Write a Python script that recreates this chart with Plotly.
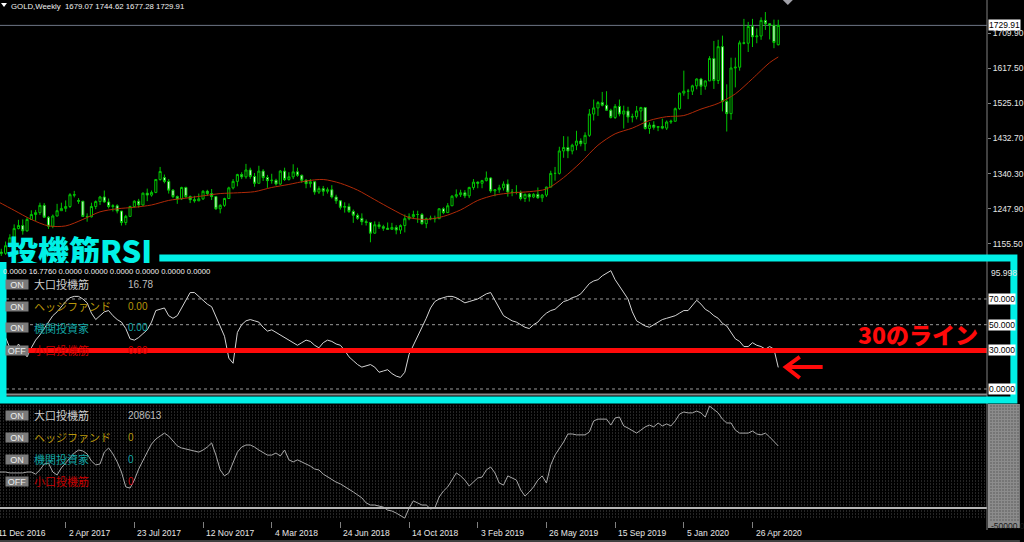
import pandas as pd
import plotly.graph_objects as go

# ---------------- data ----------------
first_week = "2016-12-11"
weeks = pd.date_range(first_week, periods=183, freq="7D")

open_ = [1159,1134,1131,1151,1172,1196,1204,1190,1220,1233,
1238,1257,1226,1202,1229,1243,1249,1254,1285,1270,
1268,1228,1227,1254,1267,1279,1266,1254,1256,1242,
1212,1228,1254,1268,1258,1289,1284,1291,1325,1330,
1320,1297,1280,1274,1304,1280,1272,1269,1274,1294,
1288,1280,1248,1257,1275,1303,1320,1338,1332,1350,
1333,1315,1347,1330,1322,1323,1313,1347,1325,1332,
1345,1336,1323,1314,1319,1292,1301,1294,1298,1279,
1269,1252,1254,1241,1231,1223,1214,1212,1184,1206,
1201,1197,1194,1199,1192,1204,1222,1227,1233,1233,
1209,1222,1223,1222,1248,1238,1256,1281,1285,1290,
1282,1304,1318,1315,1322,1329,1295,1298,1303,1313,
1292,1291,1291,1275,1286,1279,1286,1277,1284,1305,
1341,1341,1400,1409,1400,1415,1426,1419,1441,1497,
1513,1527,1520,1507,1488,1517,1497,1505,1489,1490,
1505,1514,1459,1468,1462,1464,1460,1476,1478,1511,
1552,1557,1557,1571,1589,1570,1584,1643,1585,1674,
1530,1498,1618,1620,1684,1683,1727,1700,1702,1743,
1734,1730,1679.07]

high = [1165,1143,1162,1181,1207,1219,1220,1226,1244,1245,
1264,1263,1229,1233,1261,1264,1270,1289,1295,1276,
1268,1236,1264,1270,1282,1296,1275,1260,1260,1242,
1232,1256,1270,1274,1291,1301,1296,1326,1358,1338,
1326,1300,1283,1306,1306,1283,1282,1288,1297,1298,
1300,1280,1260,1277,1306,1326,1340,1344,1366,1356,
1342,1361,1352,1337,1340,1327,1350,1356,1344,1365,
1356,1338,1326,1326,1321,1307,1308,1304,1310,1285,
1270,1265,1262,1246,1236,1236,1220,1212,1215,1214,
1206,1212,1211,1205,1207,1233,1236,1243,1243,1237,
1225,1230,1230,1250,1252,1263,1284,1299,1298,1297,
1306,1326,1320,1324,1346,1331,1300,1311,1320,1325,
1300,1310,1296,1288,1289,1289,1304,1287,1306,1348,
1358,1411,1439,1438,1419,1453,1433,1449,1510,1535,
1531,1555,1557,1511,1523,1535,1519,1516,1498,1518,
1516,1515,1475,1478,1465,1485,1480,1482,1514,1553,
1611,1563,1574,1591,1592,1585,1649,1689,1692,1703,
1575,1645,1645,1690,1747,1739,1747,1722,1751,1765,
1736,1745,1744.62]

low = [1122,1124,1127,1146,1172,1194,1180,1188,1219,1216,
1232,1224,1195,1197,1228,1243,1240,1250,1278,1261,
1227,1214,1225,1247,1258,1264,1249,1241,1236,1204,
1205,1228,1251,1251,1256,1268,1280,1289,1322,1315,
1288,1276,1261,1271,1276,1263,1264,1268,1271,1282,
1271,1245,1236,1253,1274,1299,1307,1326,1327,1327,
1306,1315,1321,1303,1314,1309,1310,1321,1322,1326,
1332,1316,1302,1304,1285,1287,1282,1288,1275,1261,
1246,1238,1237,1211,1219,1205,1204,1160,1182,1195,
1190,1193,1194,1181,1182,1186,1218,1221,1211,1206,
1197,1218,1212,1222,1234,1238,1255,1276,1279,1276,
1276,1298,1302,1302,1320,1290,1281,1290,1296,1280,
1281,1286,1270,1266,1267,1276,1274,1266,1279,1305,
1322,1338,1382,1381,1391,1402,1412,1400,1437,1480,
1492,1517,1506,1485,1484,1491,1459,1474,1475,1483,
1480,1456,1445,1456,1452,1457,1455,1471,1477,1508,
1545,1536,1547,1562,1547,1561,1584,1563,1576,1504,
1451,1482,1567,1611,1680,1660,1673,1683,1692,1718,
1693,1670,1677.28]

close = [1134,1131,1151,1172,1196,1204,1190,1220,1233,1238,
1257,1226,1202,1229,1243,1249,1254,1285,1284,1268,
1228,1227,1254,1267,1279,1266,1254,1256,1242,1212,
1228,1254,1268,1258,1289,1284,1291,1325,1346,1320,
1297,1280,1274,1304,1280,1272,1269,1274,1294,1288,
1280,1248,1257,1275,1303,1320,1338,1332,1350,1333,
1315,1347,1330,1322,1323,1313,1347,1325,1332,1345,
1336,1323,1314,1319,1292,1301,1294,1298,1279,1269,
1252,1254,1241,1231,1223,1214,1212,1184,1206,1201,
1197,1194,1199,1192,1204,1222,1227,1233,1233,1209,
1222,1223,1222,1248,1238,1256,1281,1285,1290,1282,
1304,1318,1315,1322,1329,1295,1298,1303,1313,1292,
1291,1291,1275,1286,1279,1286,1277,1284,1305,1341,
1341,1400,1409,1400,1415,1426,1419,1441,1497,1513,
1527,1520,1507,1488,1517,1497,1505,1489,1490,1505,
1514,1459,1468,1462,1464,1460,1476,1478,1511,1552,
1557,1557,1571,1589,1570,1584,1643,1585,1674,1530,
1498,1618,1620,1684,1683,1727,1700,1702,1743,1734,
1730,1685,1729.91]

# moving average, read every 4th bar (+ last bar)
ma_bars = list(range(0, 181, 4)) + [182]
ma_values = [1268,1244,1220,1203,1203,1220,1240,1248,1252,1258,1270,1276,1282,1288,1290,
1293,1304,1312,1321,1325,1315,1297,1272,1247,1225,1220,1228,1245,1270,1284,
1290,1293,1300,1330,1370,1415,1445,1460,1480,1490,1493,1510,1525,1550,1590,1632,1647]

rsi_large = [30,35,40,32,28,35,30,25,32,38,
42,47,53,57,60,64,68,71,72,72,
70,67,59,54,57,60,61,57,54,52,
47,39,38,40,43,46,52,61,62,63,
57,55,57,63,70,75,75,72,69,66,
64,56,49,41,24,20,44,50,53,54,
53,52,48,45,46,44,42,40,38,36,
34,36,38,37,34,32,36,38,37,35,
34,30,25,22,19,17,18,19,17,13,
14,15,12,10,9,13,27,34,40,48,
55,63,68,70,71,72,72,71,69,67,
68,69,70,72,74,75,69,62,57,55,
53,52,50,48,47,50,52,56,59,61,
62,65,68,69,71,72,74,78,82,84,
85,88,90,92,85,80,76,70,60,53,
51,49,48,50,52,54,55,56,57,59,
61,61,65,69,66,62,60,57,55,51,
49,44,39,37,33,33,36,34,33,31,
33,31,16.78]

cot_large = [121000,121000,121000,118000,118000,118000,118000,121000,121000,114000,
128000,148000,151000,121000,111000,135000,151000,168000,185000,195000,
192000,182000,158000,145000,148000,188000,202000,182000,155000,121000,
71000,67000,94000,131000,162000,188000,215000,232000,242000,252000,
242000,225000,209000,202000,199000,195000,192000,188000,195000,205000,
219000,178000,128000,108000,118000,151000,188000,205000,212000,212000,
205000,195000,185000,178000,178000,185000,175000,195000,162000,155000,
162000,155000,148000,141000,131000,128000,114000,104000,94000,87000,
81000,71000,61000,54000,44000,34000,17000,10000,10000,7000,
3000,-7000,-10000,-17000,-27000,-34000,0,24000,17000,10000,
10000,-3000,0,37000,57000,71000,94000,118000,108000,94000,
74000,87000,101000,104000,128000,138000,118000,84000,77000,108000,
101000,94000,61000,40000,54000,71000,94000,108000,84000,145000,
178000,199000,222000,249000,249000,246000,246000,246000,256000,293000,
299000,299000,299000,279000,303000,306000,276000,269000,259000,252000,
262000,273000,279000,273000,286000,276000,283000,276000,293000,316000,
323000,320000,320000,326000,320000,306000,343000,333000,320000,299000,
286000,286000,262000,252000,252000,252000,259000,249000,246000,252000,
239000,225000,208613]

header_text = "GOLD,Weekly  1679.07 1744.62 1677.28 1729.91"
last_price = 1729.91
price_ticks = [1155.50, 1247.90, 1340.30, 1432.70, 1525.10, 1617.50, 1709.90]
rsi_top_label = 95.998
rsi_levels = [70, 50, 30, 0]
rsi_level_text = ["70.000", "50.000", "30.000", "0.0000"]
rsi_buffer_text = "0.0000 16.7760 0.0000 0.0000 0.0000 0.0000 0.0000 0.0000"
cot_min_label = "-50000.0"
row_status = ["ON", "ON", "ON", "OFF"]
row_names = ["大口投機筋", "ヘッジファンド", "機関投資家", "小口投機筋"]
row_colors = ["#cfcfcf", "#b8960a", "#12a6a6", "#c80000"]
rsi_row_values = ["16.78", "0.00", "0.00", "0.00"]
cot_row_values = ["208613", "0", "0", "0"]
title_text = "投機筋RSI"
note_text = "30のライン"

# ---------------- layout helpers (pixel -> paper) ----------------
PW, PB = 991.0, 521.0
def X(p): return p / PW
def Y(p): return (PB - p) / PB
def pth(groups):
    s = ""
    for g in groups:
        s += "M " + " L ".join(f"{X(a):.5f},{Y(b):.5f}" for a, b in g) + " "
    return s

CYAN = "#00f0e6"
RED = "#ff0a0a"
LAB = "Liberation Sans"
JP = "Noto Sans CJK JP"

fig = go.Figure()
fig.add_trace(go.Candlestick(
    x=weeks, open=open_, high=high, low=low, close=close,
    increasing=dict(line=dict(color="#00c400", width=1), fillcolor="#000000"),
    decreasing=dict(line=dict(color="#00c400", width=1), fillcolor="#e4ffe4"),
    whiskerwidth=0, xaxis="x", yaxis="y", hoverinfo="skip", showlegend=False))
fig.add_trace(go.Scatter(x=weeks[ma_bars], y=ma_values, mode="lines",
    line=dict(color="#b02a08", width=1, shape="spline", smoothing=0.8),
    xaxis="x", yaxis="y", hoverinfo="skip", showlegend=False))
fig.add_trace(go.Scatter(x=weeks, y=rsi_large, mode="lines",
    line=dict(color="#d4d4d4", width=1), xaxis="x", yaxis="y2",
    hoverinfo="skip", showlegend=False))
fig.add_trace(go.Scatter(x=weeks, y=cot_large, mode="lines",
    line=dict(color="#a8a8a8", width=1), xaxis="x", yaxis="y3",
    hoverinfo="skip", showlegend=False))

shapes = []
for yy in range(406, 520, 3):
    shapes.append(dict(type="line", xref="paper", yref="paper", x0=0, x1=1, y0=Y(yy), y1=Y(yy),
                       line=dict(color="#4a4a4a", width=1, dash="1px,2px"), layer="below"))
shapes.append(dict(type="rect", xref="paper", yref="paper", x0=X(992), x1=X(1024), y0=Y(528), y1=Y(404),
                   fillcolor="#8c8c8c", line=dict(width=0), layer="above"))
for yy in range(406, 522, 3):
    shapes.append(dict(type="line", xref="paper", yref="paper", x0=X(994), x1=X(1024), y0=Y(yy), y1=Y(yy),
                       line=dict(color="#5e5e5e", width=1, dash="2px,1px"), layer="above"))
shapes.append(dict(type="line", xref="paper", yref="y", x0=0, x1=1, y0=last_price, y1=last_price,
                   line=dict(color="#6e7686", width=1), layer="below"))
for lv in [70, 50, 0]:
    shapes.append(dict(type="line", xref="paper", yref="y2", x0=0, x1=1, y0=lv, y1=lv,
                       line=dict(color="#9a9a9a", width=1, dash="dot"), layer="below"))
shapes.append(dict(type="line", xref="paper", yref="y2", x0=0, x1=1, y0=30, y1=30,
                   line=dict(color=RED, width=5), layer="above"))
shapes.append(dict(type="line", xref="paper", yref="paper", x0=0, x1=1, y0=Y(394.5), y1=Y(394.5),
                   line=dict(color="#8a8a8a", width=2), layer="above"))
shapes.append(dict(type="line", xref="paper", yref="y3", x0=0, x1=1, y0=0, y1=0,
                   line=dict(color="#b4b4b4", width=2), layer="above"))
shapes.append(dict(type="line", xref="paper", yref="paper", x0=1, x1=1, y0=Y(530), y1=1,
                   line=dict(color="#808080", width=1), layer="above"))
shapes.append(dict(type="line", xref="paper", yref="paper", x0=0, x1=X(1024), y0=Y(541), y1=Y(541),
                   line=dict(color="#808080", width=1), layer="above"))
shapes.append(dict(type="path", xref="paper", yref="paper",
                   path=pth([[(160, 258), (1018, 258), (1018, 400), (3, 400), (3, 262)]]),
                   line=dict(color=CYAN, width=7), layer="above"))
shapes.append(dict(type="path", xref="paper", yref="paper",
                   path=pth([[(826, 367), (789, 367)], [(803, 357), (789, 367), (803, 378)]]),
                   line=dict(color=RED, width=4), layer="above"))
shapes.append(dict(type="path", xref="paper", yref="paper",
                   path=pth([[(1, 3), (7, 3), (4, 7), (1, 3)]]) + "Z",
                   fillcolor="#ffffff", line=dict(color="#ffffff", width=0), layer="above"))
shapes.append(dict(type="path", xref="paper", yref="paper",
                   path=pth([[(786, 0), (796, 0), (791, 5), (786, 0)]]) + "Z",
                   fillcolor="#a0a0a8", line=dict(color="#a0a0a8", width=0), layer="above"))

ann = []
ann.append(dict(xref="paper", yref="paper", x=X(9), y=Y(6.5), xanchor="left", yanchor="middle",
                text=header_text, showarrow=False, font=dict(family=LAB, size=7.8, color="#f0f0f0")))
ann.append(dict(xref="paper", yref="y", x=X(992), y=last_price, xanchor="left", yanchor="middle",
                text=f"{last_price:.2f}", showarrow=False, bgcolor="#ffffff", borderpad=0,
                font=dict(family=LAB, size=8.5, color="#000000")))
ann.append(dict(xref="paper", yref="y2", x=X(993), y=rsi_top_label, xanchor="left", yanchor="top",
                text=f"{rsi_top_label:.3f}", showarrow=False, font=dict(family=LAB, size=8.5, color="#e6e6e6")))
for lv, tx in zip(rsi_levels, rsi_level_text):
    ann.append(dict(xref="paper", yref="y2", x=X(992), y=lv, xanchor="left", yanchor="middle",
                    text=tx, showarrow=False, bgcolor="#ffffff", borderpad=0,
                    font=dict(family=LAB, size=8.5, color="#000000")))
ann.append(dict(xref="paper", yref="paper", x=X(993), y=Y(526), xanchor="left", yanchor="middle",
                text=cot_min_label, showarrow=False, font=dict(family=LAB, size=8.5, color="#1a1a1a")))
ann.append(dict(xref="paper", yref="paper", x=X(1), y=Y(271.5), xanchor="left", yanchor="middle",
                text=rsi_buffer_text, showarrow=False, font=dict(family=LAB, size=7.7, color="#f0f0f0")))
for rows_y, vals in (([284, 306, 328, 350], rsi_row_values), ([415, 437, 459, 481], cot_row_values)):
    for yy, st, nm, col, vv in zip(rows_y, row_status, row_names, row_colors, vals):
        ann.append(dict(xref="paper", yref="paper", x=X(5), y=Y(yy), xanchor="left", yanchor="middle",
                        text=st, showarrow=False, bgcolor="#7a7a7a", width=22, height=9, borderpad=0,
                        font=dict(family=LAB, size=9, color="#ececec")))
        ann.append(dict(xref="paper", yref="paper", x=X(32), y=Y(yy), xanchor="left", yanchor="middle",
                        text=nm, showarrow=False, font=dict(family=JP, size=11, color=col)))
        ann.append(dict(xref="paper", yref="paper", x=X(127), y=Y(yy), xanchor="left", yanchor="middle",
                        text=vv, showarrow=False,
                        font=dict(family=LAB, size=10, color=col if col != "#cfcfcf" else "#bdbdbd")))
ann.append(dict(xref="paper", yref="paper", x=X(5), y=Y(249), xanchor="left", yanchor="middle",
                text=title_text, showarrow=False, height=28, valign="middle",
                font=dict(family=JP, size=31, color=CYAN, weight=900)))
ann.append(dict(xref="paper", yref="paper", x=X(859), y=Y(334), xanchor="left", yanchor="middle",
                text=note_text, showarrow=False, font=dict(family=JP, size=23, color=RED, weight=900)))
tick_dates = weeks[::16]
for k, d in enumerate(tick_dates):
    lbl = f"{d.day} {d.strftime('%b %Y')}"
    if k == 0:
        ann.append(dict(xref="paper", yref="paper", x=X(-4), y=Y(533), xanchor="left", yanchor="middle",
                        text=lbl, showarrow=False, font=dict(family=LAB, size=8.5, color="#e6e6e6")))
    else:
        ann.append(dict(xref="x", yref="paper", x=d, xshift=1, y=Y(533), xanchor="left", yanchor="middle",
                        text=lbl, showarrow=False, font=dict(family=LAB, size=8.5, color="#e6e6e6")))

x_start = weeks[0] + pd.Timedelta(days=4.9)
x_end = weeks[0] + pd.Timedelta(days=1614.4)

fig.update_layout(
    width=1024, height=542, margin=dict(l=0, r=33, t=0, b=21),
    paper_bgcolor="#000000", plot_bgcolor="#000000", showlegend=False,
    xaxis=dict(type="date", range=[x_start, x_end], anchor="y3", showgrid=False, zeroline=False,
               showticklabels=False, ticks="outside", ticklen=6, tickcolor="#808080",
               tickmode="array", tickvals=list(tick_dates), rangeslider=dict(visible=False),
               showline=False, fixedrange=True),
    yaxis=dict(domain=[Y(258), 1], range=[1118.7, 1796.6], side="right", anchor="x",
               showgrid=False, zeroline=False, tickmode="array", tickvals=price_ticks,
               ticktext=[f"{v:.2f}" for v in price_ticks], ticks="outside", ticklen=3,
               tickcolor="#808080", tickfont=dict(family=LAB, size=8.5, color="#e6e6e6")),
    yaxis2=dict(domain=[Y(395), Y(265)], range=[-4.67, 96.42], side="right", anchor="x",
                showgrid=False, zeroline=False, showticklabels=False),
    yaxis3=dict(domain=[0, Y(404)], range=[-43742, 349900], side="right", anchor="x",
                showgrid=False, zeroline=False, showticklabels=False),
    shapes=shapes, annotations=ann,
)

fig.write_html("out.html", config={"displayModeBar": False},
               post_script="document.body.style.margin='0';document.body.style.padding='0';"
                           "document.body.style.overflow='hidden';document.body.style.background='#000';")
